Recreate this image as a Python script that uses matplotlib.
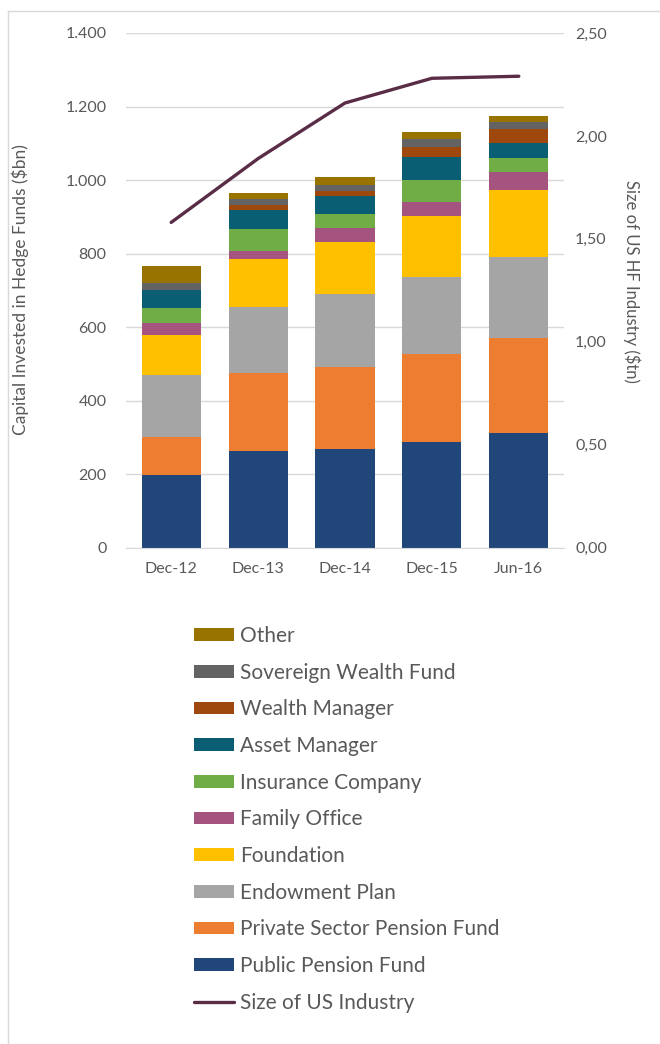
import matplotlib
matplotlib.use("Agg")
import matplotlib.pyplot as plt
from matplotlib.ticker import FuncFormatter, MultipleLocator
from matplotlib.lines import Line2D
import numpy as np

plt.rcParams['font.family'] = ['Lato', 'DejaVu Sans']

categories = ["Dec-12", "Dec-13", "Dec-14", "Dec-15", "Jun-16"]

public_pension = [198, 264, 268, 288, 313]
private_pension = [104, 210, 223, 238, 258]
endowment = [168, 181, 199, 210, 219]
foundation = [108, 129, 142, 166, 183]
family_office = [33, 23, 38, 37, 48]
insurance = [42, 59, 37, 60, 39]
asset_manager = [48, 52, 49, 64, 40]
wealth_manager = [0, 14, 14, 28, 39]
sovereign = [20, 16, 16, 20, 20]
other = [45, 18, 21, 21, 14]

us_industry = [1.58, 1.89, 2.16, 2.28, 2.29]

series_names = ["Public Pension Fund", "Private Sector Pension Fund", "Endowment Plan",
                "Foundation", "Family Office", "Insurance Company", "Asset Manager",
                "Wealth Manager", "Sovereign Wealth Fund", "Other"]
series_values = [public_pension, private_pension, endowment, foundation, family_office,
                 insurance, asset_manager, wealth_manager, sovereign, other]
series_colors = ["#21477A", "#ED7D31", "#A5A5A5", "#FFC000", "#A5537F",
                 "#70AD47", "#0A5E73", "#9E480E", "#636363", "#997300"]
line_color = "#5A2D47"
text_color = "#595959"
grid_color = "#D9D9D9"

W, H = 660, 1044
fig = plt.figure(figsize=(W / 100, H / 100), dpi=100)
ax = fig.add_axes([126 / W, 1 - 547.7 / H, (564 - 126) / W, (547.7 - 33) / H])
ax2 = ax.twinx()

x = np.arange(len(categories))
bottom = np.zeros(len(categories))
handles = []
for name, vals, col in zip(series_names, series_values, series_colors):
    b = ax.bar(x, vals, width=0.68, bottom=bottom, color=col, label=name, zorder=2)
    bottom += np.array(vals)
    handles.append(b)

ln, = ax2.plot(x, us_industry, color=line_color, lw=2.4, label="Size of US Industry",
               solid_capstyle='round', zorder=3)

ax.set_xlim(-0.52, len(categories) - 1 + 0.52)
ax.set_ylim(0, 1400)
ax2.set_ylim(0, 2.5)
ax.yaxis.set_major_locator(MultipleLocator(200))
ax2.yaxis.set_major_locator(MultipleLocator(0.5))
ax.yaxis.set_major_formatter(FuncFormatter(lambda v, p: f"{int(round(v)):,}".replace(",", ".")))
ax2.yaxis.set_major_formatter(FuncFormatter(lambda v, p: f"{v:.2f}".replace(".", ",")))

ax.set_xticks(x)
ax.set_xticklabels(categories)
ax.grid(axis='y', color=grid_color, lw=1, zorder=0)
ax.set_axisbelow(True)

for a in (ax, ax2):
    for s in a.spines.values():
        s.set_visible(False)
ax.spines['bottom'].set_visible(True)
ax.spines['bottom'].set_color(grid_color)

ax.tick_params(axis='y', length=0, pad=14, labelsize=11.5, labelcolor=text_color)
ax.tick_params(axis='x', length=0, pad=10, labelsize=11.5, labelcolor=text_color)
ax2.tick_params(axis='y', length=0, pad=8, labelsize=11.5, labelcolor=text_color)

fig.text(20 / W, 1 - 290 / H, "Capital Invested in Hedge Funds ($bn)", rotation=90,
         ha='center', va='center', fontsize=12.5, color=text_color)
fig.text(632 / W, 1 - 281 / H, "Size of US HF Industry ($tn)", rotation=270,
         ha='center', va='center', fontsize=12, color=text_color)

leg_handles = handles[::-1] + [ln]
leg_labels = series_names[::-1] + ["Size of US Industry"]
leg = fig.legend(leg_handles, leg_labels, loc='upper left',
                 bbox_to_anchor=(194 / W, 1 - 626 / H), frameon=False, fontsize=15,
                 handlelength=1.92, handleheight=0.55, handletextpad=0.3,
                 labelspacing=0.80, borderpad=0, borderaxespad=0)
for t in leg.get_texts():
    t.set_color(text_color)

# outer chart border
fig.add_artist(Line2D([8 / W, 1], [1 - 11 / H, 1 - 11 / H], color=grid_color, lw=1,
                      transform=fig.transFigure))
fig.add_artist(Line2D([8 / W, 8 / W], [0, 1 - 11 / H], color=grid_color, lw=1,
                      transform=fig.transFigure))

fig.savefig("out.png", dpi=100, facecolor="white")
